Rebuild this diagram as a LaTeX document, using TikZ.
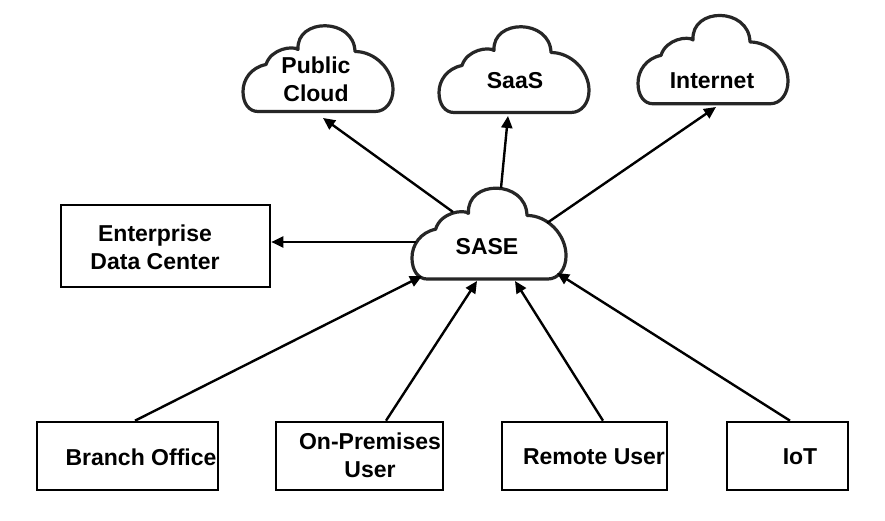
\documentclass[tikz,border=0pt]{standalone}
\usepackage{fontspec}
\setmainfont{Liberation Sans}
\usetikzlibrary{arrows.meta}
\tikzset{
  lbl/.style={font=\bfseries\fontsize{23}{28}\selectfont, align=center, inner sep=0pt, text=black},
  boxnode/.style={draw=black, line width=2.6pt, inner sep=0pt, fill=white},
  conn/.style={line width=2.4pt, -{Triangle[length=12pt,width=11pt]}},
  cloudline/.style={draw=black!85, line width=3.2pt, line join=round, fill=white},
  cloudshape/.pic={
    \path[cloudline] (-60,42.5) -- (57,42.5)
      .. controls (68,42.5) and (75,32.5) .. (75,20.5)
      .. controls (75,0.5) and (57,-17.5) .. (37,-17.5)
      .. controls (36,-51.5) and (-22,-51.5) .. (-20,-19.5)
      .. controls (-25,-23.5) and (-47,-20.5) .. (-52,-4.5)
      .. controls (-67,-1.5) and (-75,10.5) .. (-75,22.5)
      .. controls (-75,34.5) and (-69,42.5) .. (-60,42.5) -- cycle;
  }
}
\begin{document}
\begin{tikzpicture}[x=1pt,y=-1pt]
\useasboundingbox[fill=white] (0,0) rectangle (885,521);

% clouds
\pic at (318,69) {cloudshape};
\pic at (514,70) {cloudshape};
\pic[yscale=1.03] at (713,60) {cloudshape};
\pic[xscale=1.027,yscale=1.06] at (489,234) {cloudshape};

\node[lbl] (pub) at (316,79) {Public\\Cloud};
\node[lbl] (saas) at (515,81) {SaaS};
\node[lbl] (inet) at (712,81) {Internet};
\node[lbl] (sase) at (487,247) {SASE};

% boxes
\node[boxnode, minimum width=209pt, minimum height=82pt] (edc) at (165.5,246) {};
\node[lbl] (edctxt) at (155,247) {Enterprise\\Data Center};

\node[boxnode, minimum width=181pt, minimum height=68pt] (branch) at (127.5,456) {};
\node[lbl] (branchtxt) at (141,457) {Branch Office};
\node[boxnode, minimum width=167pt, minimum height=68pt] (onprem) at (359.5,456) {};
\node[lbl] (onpremtxt) at (370,455) {On-Premises\\User};
\node[boxnode, minimum width=165pt, minimum height=68pt] (remote) at (584.5,456) {};
\node[lbl] (remotetxt) at (594,457) {Remote User};
\node[boxnode, minimum width=121pt, minimum height=68pt] (iot) at (787.5,456) {};
\node[lbl] (iottxt) at (800,457) {IoT};

% connectors
\draw[conn] ([shift={(-34,-35)}]sase.center) -- ([shift={(7,39)}]pub.center);
\draw[conn] ([shift={(14,-59)}]sase.center) -- ([shift={(-7,35)}]saas.center);
\draw[conn] ([shift={(60,-24)}]sase.center) -- ([shift={(4,26)}]inet.center);
\coordinate (edcsrc) at ([shift={(-71,-5)}]sase.center);
\draw[conn] (edcsrc) -- (edcsrc -| edc.east);
\draw[conn] ([xshift=7.5pt]branch.north) -- ([shift={(-65,29)}]sase.center);
\draw[conn] ([xshift=26.5pt]onprem.north) -- ([shift={(-10,34)}]sase.center);
\draw[conn] ([xshift=18.5pt]remote.north) -- ([shift={(28,34)}]sase.center);
\draw[conn] ([xshift=2.5pt]iot.north) -- ([shift={(70,26)}]sase.center);
\end{tikzpicture}
\end{document}
